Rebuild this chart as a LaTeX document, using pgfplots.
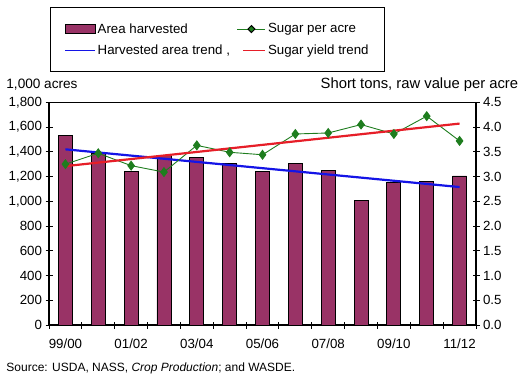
\documentclass[border=0pt]{standalone}
\usepackage{fontspec}
\setmainfont{Liberation Sans}
\usepackage{pgfplots}
\pgfplotsset{compat=1.18}
\definecolor{barfill}{RGB}{153,51,102}
\definecolor{sgreen}{RGB}{30,125,30}
\definecolor{tblue}{RGB}{20,20,230}
\definecolor{tred}{RGB}{230,30,40}
\newcommand{\fs}{\fontsize{13.3}{16}\selectfont}
\begin{document}
\begin{tikzpicture}
\useasboundingbox (0,0) rectangle (526pt,381pt);
\begin{axis}[
  at={(49pt,56pt)}, anchor=south west,
  scale only axis, width=427pt, height=222.7pt,
  xmin=-0.5, xmax=12.5, ymin=0, ymax=1800,
  ytick={0,200,...,1800}, ytick pos=left,
  xtick={-0.5,0.5,...,12.5}, xticklabels={}, xtick pos=bottom,
  extra x ticks={0,2,...,12},
  extra x tick labels={99/00,01/02,03/04,05/06,07/08,09/10,11/12},
  extra x tick style={major tick length=0pt, tick label style={yshift=-10pt}},
  tick align=center, major tick length=7pt,
  tick style={black, line width=1pt},
  axis line style={line width=1.3pt},
  /pgf/number format/.cd, 1000 sep={,}, assume math mode=true, /pgfplots/.cd,
  tick label style={font=\fs},
  clip=false,
]
\addplot[ybar, bar width=14pt, fill=barfill, draw=black, line width=0.8pt] coordinates {
(0,1529) (1,1389) (2,1240) (3,1367) (4,1354) (5,1308) (6,1238)
(7,1303) (8,1248) (9,1006) (10,1151) (11,1157) (12,1205)};
\addplot[tblue, line width=2.2pt] coordinates {(0,1420) (12,1115)};
\node[anchor=base west, font=\fontsize{13.6}{16}\selectfont] at (axis description cs:-0.108,1.064) {1,000 acres};
\node[anchor=base west, font=\fontsize{12}{14}\selectfont] at (axis description cs:-0.108,-0.211) {Source: USDA, NASS, \textit{Crop Production}; and WASDE.};
\end{axis}
\begin{axis}[
  at={(49pt,56pt)}, anchor=south west,
  scale only axis, width=427pt, height=222.7pt,
  xmin=-0.5, xmax=12.5, ymin=0, ymax=4.5,
  axis x line=none, axis y line*=right,
  ytick={0,0.5,...,4.5},
  tick align=center, major tick length=7pt,
  tick style={black, line width=1pt},
  axis line style={line width=1.3pt},
  /pgf/number format/.cd, fixed, fixed zerofill, precision=1, assume math mode=true, /pgfplots/.cd,
  tick label style={font=\fs},
  clip=false,
  legend style={at={(axis description cs:0.0023,1.428)}, anchor=north west,
    draw=black, line width=1pt, font=\fs, inner xsep=14pt, inner ysep=14pt, row sep=6pt,
    /tikz/every even column/.append style={column sep=5pt}},
  legend columns=2, legend cell align=left,
]
\addplot[sgreen, line width=0.9pt, mark=diamond*, mark size=4.4pt, mark options={fill=sgreen}, forget plot] coordinates {
(0,3.25) (1,3.47) (2,3.22) (3,3.09) (4,3.63) (5,3.49) (6,3.44)
(7,3.86) (8,3.88) (9,4.05) (10,3.86) (11,4.22) (12,3.72)};
\addplot[tred, line width=2.2pt, forget plot] coordinates {(0,3.21) (12,4.07)};
\addlegendimage{legend image code/.code={\draw[draw=black, fill=barfill, line width=0.8pt] (0pt,-4.5pt) rectangle (30pt,4.5pt);}}
\addlegendentry{Area harvested}
\addlegendimage{legend image code/.code={\draw[draw=sgreen, line width=0.9pt] (0pt,0pt) -- (28pt,0pt); \fill[fill=sgreen] (14pt,3.5pt) -- (17.5pt,0pt) -- (14pt,-3.5pt) -- (10.5pt,0pt) -- cycle;}}
\addlegendentry{Sugar per acre}
\addlegendimage{legend image code/.code={\draw[draw=tblue, line width=1.2pt] (0pt,0pt) -- (30pt,0pt);}}
\addlegendentry{Harvested area trend ,}
\addlegendimage{legend image code/.code={\draw[draw=tred, line width=1.2pt] (6pt,0pt) -- (28pt,0pt);}}
\addlegendentry{Sugar yield trend\hspace{9pt}}
\node[anchor=base east, font=\fontsize{14.8}{17}\selectfont] at (axis description cs:1.107,1.064) {Short tons, raw value per acre};
\end{axis}
\end{tikzpicture}
\end{document}
